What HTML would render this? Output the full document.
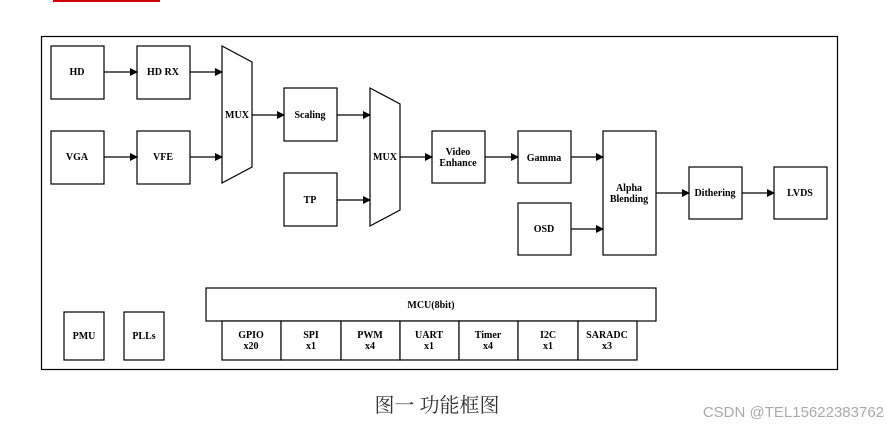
<!DOCTYPE html>
<html><head><meta charset="utf-8"><style>
body{margin:0;background:#fff;width:887px;height:427px;overflow:hidden;position:relative}
svg{position:absolute;left:0;top:0}
text{font-family:"Liberation Serif",serif;font-weight:bold;font-size:10px;fill:#000}
</style></head><body>
<svg width="887" height="427" viewBox="0 0 887 427">
<defs><marker id="a" markerWidth="8" markerHeight="8" refX="7" refY="4" orient="auto" markerUnits="userSpaceOnUse"><path d="M0,0 L8,4 L0,8 z" fill="#000"/></marker></defs>
<rect x="53" y="0" width="107" height="2" fill="#c00"/>
<rect x="41.5" y="36.5" width="796" height="333" fill="none" stroke="#000" stroke-width="1.2"/>
<g fill="#fff" stroke="#000" stroke-width="1.2">
<rect x="51" y="46" width="53" height="53"/><rect x="137" y="46" width="53" height="53"/>
<rect x="51" y="131" width="53" height="53"/><rect x="137" y="131" width="53" height="53"/>
<path d="M222,46 L252,62 L252,167 L222,183 z"/>
<rect x="284" y="88" width="53" height="53"/><rect x="284" y="173" width="53" height="53"/>
<path d="M370,88 L400,104 L400,210 L370,226 z"/>
<rect x="432" y="131" width="53" height="52"/><rect x="518" y="131" width="53" height="52"/>
<rect x="518" y="203" width="53" height="52"/><rect x="603" y="131" width="53" height="124"/>
<rect x="689" y="167" width="53" height="52"/><rect x="774" y="167" width="53" height="52"/>
<rect x="206" y="288" width="450" height="33"/>
<rect x="222" y="321" width="59" height="39"/><rect x="281" y="321" width="60" height="39"/>
<rect x="341" y="321" width="59" height="39"/><rect x="400" y="321" width="59" height="39"/>
<rect x="459" y="321" width="59" height="39"/><rect x="518" y="321" width="60" height="39"/>
<rect x="578" y="321" width="59" height="39"/>
<rect x="64" y="312" width="40" height="48"/><rect x="124" y="312" width="40" height="48"/>
</g>
<g stroke="#000" stroke-width="1.2" marker-end="url(#a)">
<line x1="104" y1="72" x2="137" y2="72"/><line x1="190" y1="72" x2="222" y2="72"/>
<line x1="104" y1="157" x2="137" y2="157"/><line x1="190" y1="157" x2="222" y2="157"/>
<line x1="252" y1="115" x2="284" y2="115"/><line x1="337" y1="115" x2="370" y2="115"/>
<line x1="337" y1="200" x2="370" y2="200"/><line x1="400" y1="157" x2="432" y2="157"/>
<line x1="485" y1="157" x2="518" y2="157"/><line x1="571" y1="157" x2="603" y2="157"/>
<line x1="571" y1="229" x2="603" y2="229"/><line x1="656" y1="193" x2="689" y2="193"/>
<line x1="742" y1="193" x2="774" y2="193"/>
</g>
<g text-anchor="middle">
<text x="77" y="75">HD</text><text x="163" y="75">HD RX</text>
<text x="77" y="160">VGA</text><text x="163" y="160">VFE</text>
<text x="237" y="118">MUX</text><text x="310" y="118">Scaling</text>
<text x="310" y="203">TP</text><text x="385" y="160">MUX</text>
<text x="458" y="155">Video</text><text x="458" y="166">Enhance</text>
<text x="544" y="161">Gamma</text><text x="544" y="232">OSD</text>
<text x="629" y="191">Alpha</text><text x="629" y="202">Blending</text>
<text x="715" y="196">Dithering</text><text x="800" y="196">LVDS</text>
<text x="431" y="308">MCU(8bit)</text>
<text x="84" y="339">PMU</text><text x="144" y="339">PLLs</text>
<text x="251" y="338">GPIO</text><text x="251" y="349">x20</text>
<text x="311" y="338">SPI</text><text x="311" y="349">x1</text>
<text x="370" y="338">PWM</text><text x="370" y="349">x4</text>
<text x="429" y="338">UART</text><text x="429" y="349">x1</text>
<text x="488" y="338">Timer</text><text x="488" y="349">x4</text>
<text x="548" y="338">I2C</text><text x="548" y="349">x1</text>
<text x="607" y="338">SARADC</text><text x="607" y="349">x3</text>
</g>
<text x="437" y="412" text-anchor="middle" style="font-family:'Noto Serif CJK SC','Noto Sans CJK SC',serif;font-weight:normal;font-size:20px;fill:#333">图一 功能框图</text>
<text x="884" y="417" text-anchor="end" style="font-family:'Liberation Sans',sans-serif;font-weight:normal;font-size:15px;fill:#aaa">CSDN @TEL15622383762</text>
</svg>
</body></html>
